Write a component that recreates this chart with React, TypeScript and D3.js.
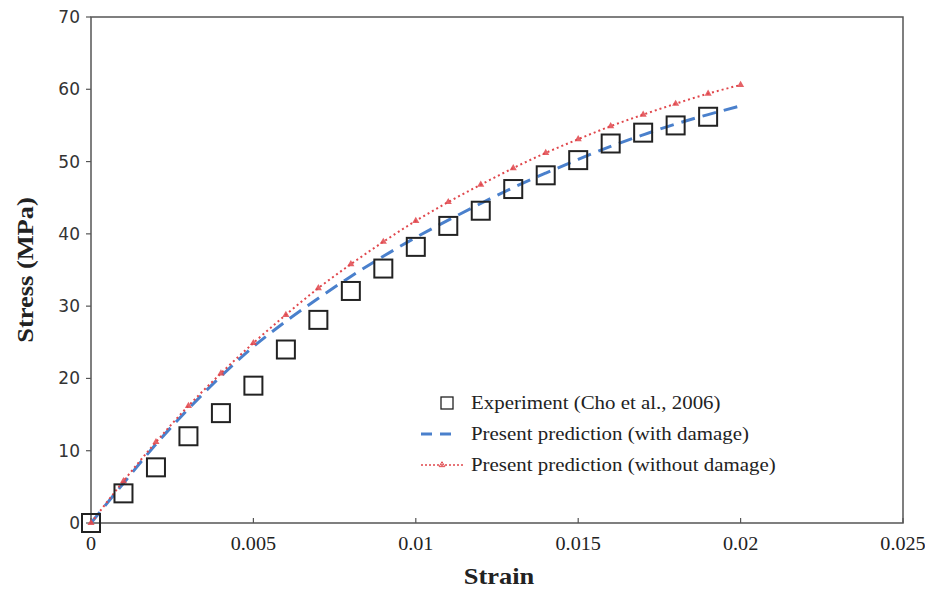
import React from "react";
import * as d3 from "d3";

const expStrain = [0, 0.001, 0.002, 0.003, 0.004, 0.005, 0.006, 0.007, 0.008, 0.009, 0.01, 0.011, 0.012, 0.013, 0.014, 0.015, 0.016, 0.017, 0.018, 0.019];
const expStress = [0, 4.1, 7.7, 12.0, 15.2, 19.0, 24.0, 28.1, 32.1, 35.2, 38.2, 41.1, 43.2, 46.2, 48.1, 50.2, 52.5, 54.0, 55.0, 56.2];

const predStrain = [0, 0.001, 0.002, 0.003, 0.004, 0.005, 0.006, 0.007, 0.008, 0.009, 0.01, 0.011, 0.012, 0.013, 0.014, 0.015, 0.016, 0.017, 0.018, 0.019, 0.02];
const withDamage = [0, 5.5, 10.9, 15.8, 20.3, 24.4, 27.9, 31.1, 34.1, 36.9, 39.5, 41.9, 44.2, 46.4, 48.4, 50.3, 52.1, 53.7, 55.2, 56.5, 57.7];
const withoutDamage = [0, 5.8, 11.2, 16.2, 20.7, 24.9, 28.8, 32.5, 35.8, 38.9, 41.8, 44.4, 46.8, 49.1, 51.2, 53.1, 54.9, 56.5, 58.0, 59.4, 60.6];

const xTicks = [0, 0.005, 0.01, 0.015, 0.02, 0.025];
const yTicks = [0, 10, 20, 30, 40, 50, 60, 70];
const legendLabels = ["Experiment (Cho et al., 2006)", "Present prediction (with damage)", "Present prediction (without damage)"];

const W = 925, H = 591;
const L = 91, R = 903, T = 17, B = 523;
const SERIF = "Liberation Serif, Times New Roman, serif";
const SANS = "DejaVu Sans, Verdana, sans-serif";
const RED = "#e0474c";
const BLUE = "#4a80cc";

export default function App() {
  const x = d3.scaleLinear().domain([0, 0.025]).range([L, R]);
  const y = d3.scaleLinear().domain([0, 70]).range([B, T]);
  const line = d3.line<number>().x((_, i) => x(predStrain[i])).y((d) => y(d)).curve(d3.curveMonotoneX);
  const tri = d3.symbol().type(d3.symbolTriangle).size(22)() as string;
  const sq = 18;
  const sx = 1.1;

  return (
    <svg width={W} height={H} style={{ position: "absolute", left: 0, top: 0, background: "#fff" }}>
      <rect x={0} y={0} width={W} height={H} fill="#fff" />
      {/* frame */}
      <rect x={L} y={T} width={R - L} height={B - T} fill="none" stroke="#555" strokeWidth={1.5} />
      {/* y ticks */}
      {yTicks.map((t) => (
        <g key={"y" + t}>
          <line x1={L - 5} x2={L} y1={y(t)} y2={y(t)} stroke="#555" strokeWidth={1.2} />
          <text x={L - 11} y={y(t)} dy="0.35em" textAnchor="end" fontFamily={SANS} fontSize={17} fill="#333">{t}</text>
        </g>
      ))}
      {/* x ticks */}
      {xTicks.map((t) => (
        <g key={"x" + t}>
          <line x1={x(t)} x2={x(t)} y1={B} y2={B - 5} stroke="#555" strokeWidth={1.2} />
          <text transform={`translate(${x(t)},${B + 27}) scale(1.12,1)`} textAnchor="middle" fontFamily={SERIF} fontSize={18} fill="#222">{t}</text>
        </g>
      ))}
      <text transform={`translate(499,584) scale(1.15,1)`} textAnchor="middle" fontFamily={SERIF} fontSize={23} fontWeight="bold" fill="#222">Strain</text>
      <text transform={`translate(33,270) rotate(-90) scale(1.15,1)`} textAnchor="middle" fontFamily={SERIF} fontSize={23} fontWeight="bold" fill="#222">Stress (MPa)</text>

      {/* blue dashed */}
      <path d={line(withDamage) || ""} fill="none" stroke={BLUE} strokeWidth={3} strokeDasharray="14 8" />
      {/* red dotted */}
      <path d={line(withoutDamage) || ""} fill="none" stroke={RED} strokeWidth={2} strokeDasharray="2 3" />
      {withoutDamage.map((v, i) => (
        <path key={"t" + i} d={tri} transform={`translate(${x(predStrain[i])},${y(v)})`} fill={RED} opacity={0.85} />
      ))}
      {/* experiment squares */}
      {expStress.map((v, i) => (
        <rect key={"s" + i} x={x(expStrain[i]) - sq / 2} y={y(v) - sq / 2} width={sq} height={sq} fill="none" stroke="#222" strokeWidth={2} />
      ))}

      {/* legend */}
      <g fontFamily={SERIF} fontSize={19} fill="#222">
        <rect x={441} y={397} width={12} height={12} fill="none" stroke="#222" strokeWidth={1.3} />
        <text transform={`translate(471,409) scale(${sx},1)`}>{legendLabels[0]}</text>
        <line x1={421} x2={458} y1={434} y2={434} stroke={BLUE} strokeWidth={3} strokeDasharray="11 8" />
        <text transform={`translate(471,440) scale(${sx},1)`}>{legendLabels[1]}</text>
        <line x1={421} x2={463} y1={465} y2={465} stroke={RED} strokeWidth={1.5} strokeDasharray="2 2" />
        <path d={d3.symbol().type(d3.symbolTriangle).size(14)() as string} transform="translate(442,465)" fill="none" stroke={RED} strokeWidth={1} />
        <text transform={`translate(471,471) scale(${sx},1)`}>{legendLabels[2]}</text>
      </g>
    </svg>
  );
}
